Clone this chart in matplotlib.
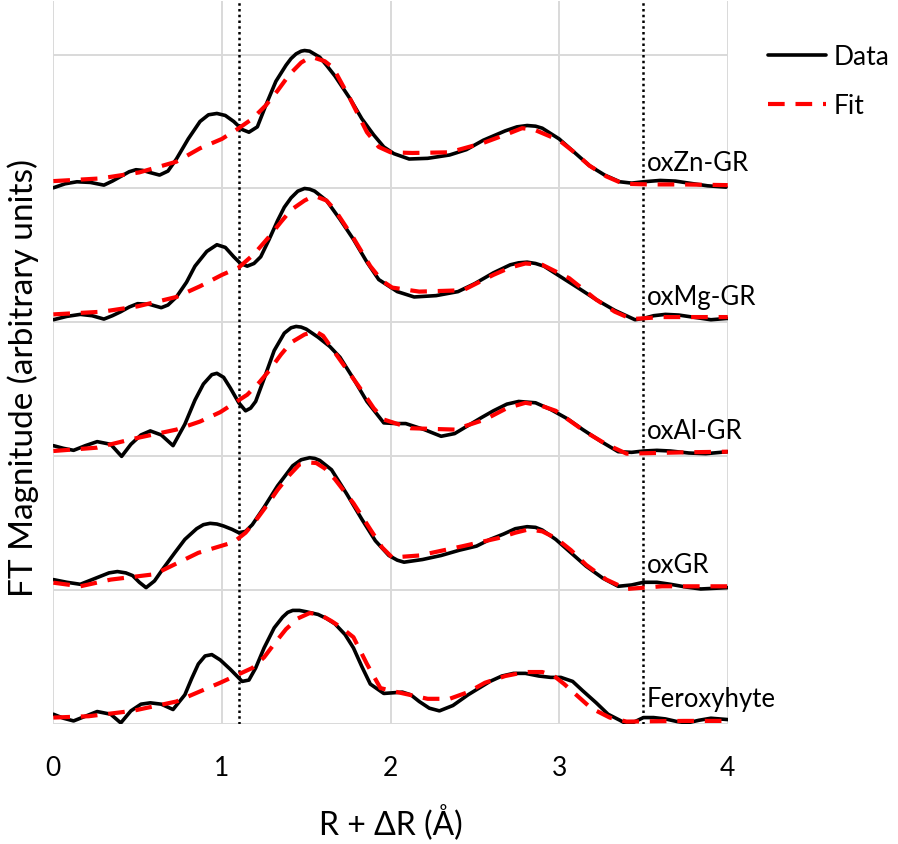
import numpy as np
import matplotlib
matplotlib.use("Agg")
import matplotlib.pyplot as plt

plt.rcParams['font.family'] = ['Lato', 'DejaVu Sans']

# sample names, top to bottom
samples = ['oxZn-GR', 'oxMg-GR', 'oxAl-GR', 'oxGR', 'Feroxyhyte']
offsets = [4, 3, 2, 1, 0]

data_r = {
    'oxZn-GR': [0, 0.07, 0.14, 0.22, 0.30, 0.35, 0.40, 0.45, 0.49, 0.53, 0.57, 0.63, 0.68, 0.73, 0.80, 0.87, 0.92, 0.97, 1.02, 1.07, 1.12, 1.16, 1.21, 1.26, 1.32, 1.38, 1.41, 1.44, 1.47, 1.49, 1.52, 1.54, 1.58, 1.62, 1.67, 1.76, 1.83, 1.90, 1.96, 2.02, 2.11, 2.22, 2.35, 2.45, 2.55, 2.68, 2.75, 2.81, 2.86, 2.90, 3.00, 3.09, 3.18, 3.27, 3.36, 3.43, 3.50, 3.60, 3.69, 3.77, 3.88, 3.99],
    'oxMg-GR': [0, 0.08, 0.16, 0.23, 0.30, 0.35, 0.40, 0.45, 0.50, 0.57, 0.64, 0.68, 0.73, 0.79, 0.84, 0.91, 0.97, 1.02, 1.07, 1.11, 1.15, 1.19, 1.23, 1.28, 1.33, 1.37, 1.41, 1.45, 1.49, 1.52, 1.55, 1.62, 1.70, 1.78, 1.86, 1.93, 2.04, 2.14, 2.27, 2.40, 2.50, 2.61, 2.71, 2.76, 2.81, 2.86, 2.91, 3.01, 3.11, 3.22, 3.33, 3.45, 3.50, 3.56, 3.63, 3.71, 3.79, 3.90, 4.0],
    'oxAl-GR': [0, 0.06, 0.12, 0.19, 0.26, 0.34, 0.405, 0.46, 0.52, 0.575, 0.64, 0.71, 0.78, 0.84, 0.89, 0.94, 0.97, 1.01, 1.05, 1.10, 1.14, 1.17, 1.20, 1.25, 1.31, 1.37, 1.41, 1.44, 1.47, 1.50, 1.57, 1.64, 1.70, 1.78, 1.86, 1.96, 2.03, 2.09, 2.20, 2.30, 2.38, 2.46, 2.54, 2.61, 2.69, 2.76, 2.86, 2.95, 3.05, 3.14, 3.25, 3.35, 3.43, 3.50, 3.58, 3.66, 3.77, 3.87, 4.0],
    'oxGR': [0, 0.08, 0.16, 0.27, 0.33, 0.38, 0.43, 0.47, 0.51, 0.55, 0.60, 0.65, 0.72, 0.78, 0.85, 0.89, 0.93, 0.97, 1.01, 1.06, 1.10, 1.14, 1.18, 1.25, 1.33, 1.42, 1.47, 1.52, 1.55, 1.58, 1.65, 1.74, 1.83, 1.91, 1.99, 2.04, 2.08, 2.19, 2.30, 2.41, 2.51, 2.59, 2.67, 2.74, 2.81, 2.86, 2.90, 2.98, 3.07, 3.16, 3.26, 3.35, 3.43, 3.50, 3.58, 3.66, 3.75, 3.84, 3.92, 4.0],
    'Feroxyhyte': [0, 0.06, 0.12, 0.19, 0.26, 0.34, 0.40, 0.46, 0.52, 0.575, 0.64, 0.71, 0.78, 0.82, 0.86, 0.90, 0.94, 0.99, 1.05, 1.12, 1.16, 1.20, 1.25, 1.31, 1.36, 1.39, 1.42, 1.46, 1.50, 1.57, 1.62, 1.67, 1.73, 1.78, 1.83, 1.88, 1.96, 2.07, 2.12, 2.17, 2.23, 2.29, 2.37, 2.46, 2.59, 2.66, 2.73, 2.80, 2.88, 2.95, 3.01, 3.08, 3.14, 3.22, 3.29, 3.36, 3.41, 3.45, 3.50, 3.56, 3.63, 3.70, 3.76, 3.83, 3.90, 4.0],
}
data_mag = {
    'oxZn-GR': [0.005, 0.035, 0.05, 0.045, 0.025, 0.055, 0.09, 0.125, 0.14, 0.135, 0.12, 0.10, 0.13, 0.22, 0.37, 0.50, 0.55, 0.56, 0.545, 0.50, 0.44, 0.42, 0.46, 0.62, 0.80, 0.92, 0.97, 1.005, 1.025, 1.03, 1.025, 1.01, 0.98, 0.92, 0.84, 0.67, 0.52, 0.40, 0.31, 0.26, 0.22, 0.225, 0.25, 0.29, 0.36, 0.43, 0.46, 0.47, 0.465, 0.45, 0.37, 0.27, 0.17, 0.10, 0.05, 0.04, 0.05, 0.06, 0.055, 0.04, 0.02, 0.01],
    'oxMg-GR': [0.02, 0.045, 0.06, 0.05, 0.025, 0.05, 0.08, 0.115, 0.14, 0.135, 0.11, 0.13, 0.19, 0.30, 0.42, 0.53, 0.58, 0.56, 0.49, 0.44, 0.42, 0.44, 0.49, 0.62, 0.76, 0.86, 0.93, 0.98, 1.00, 0.995, 0.98, 0.91, 0.77, 0.62, 0.45, 0.32, 0.23, 0.19, 0.20, 0.23, 0.29, 0.37, 0.43, 0.445, 0.45, 0.44, 0.42, 0.34, 0.26, 0.17, 0.09, 0.02, 0.03, 0.05, 0.06, 0.055, 0.04, 0.02, 0.03],
    'oxAl-GR': [0.08, 0.06, 0.045, 0.08, 0.11, 0.09, 0.0, 0.09, 0.16, 0.19, 0.16, 0.08, 0.24, 0.42, 0.54, 0.61, 0.62, 0.59, 0.51, 0.40, 0.34, 0.36, 0.41, 0.58, 0.79, 0.92, 0.96, 0.97, 0.965, 0.95, 0.89, 0.82, 0.74, 0.58, 0.41, 0.25, 0.245, 0.245, 0.20, 0.15, 0.17, 0.23, 0.29, 0.34, 0.39, 0.41, 0.40, 0.35, 0.28, 0.20, 0.11, 0.035, 0.03, 0.04, 0.045, 0.04, 0.025, 0.02, 0.035],
    'oxGR': [0.08, 0.06, 0.045, 0.10, 0.13, 0.14, 0.13, 0.11, 0.06, 0.02, 0.07, 0.16, 0.28, 0.38, 0.46, 0.49, 0.50, 0.495, 0.48, 0.455, 0.43, 0.44, 0.49, 0.62, 0.78, 0.93, 0.975, 0.99, 0.985, 0.97, 0.90, 0.72, 0.53, 0.37, 0.26, 0.225, 0.21, 0.23, 0.26, 0.30, 0.33, 0.38, 0.42, 0.46, 0.475, 0.47, 0.45, 0.38, 0.28, 0.18, 0.09, 0.03, 0.04, 0.06, 0.06, 0.045, 0.025, 0.01, 0.015, 0.02],
    'Feroxyhyte': [0.075, 0.045, 0.025, 0.06, 0.095, 0.075, 0.01, 0.10, 0.15, 0.16, 0.15, 0.11, 0.22, 0.34, 0.45, 0.51, 0.52, 0.48, 0.41, 0.32, 0.33, 0.42, 0.57, 0.72, 0.80, 0.835, 0.85, 0.85, 0.84, 0.82, 0.79, 0.75, 0.67, 0.57, 0.43, 0.30, 0.23, 0.24, 0.22, 0.17, 0.12, 0.10, 0.14, 0.22, 0.32, 0.36, 0.38, 0.38, 0.36, 0.35, 0.35, 0.32, 0.25, 0.16, 0.075, 0.03, -0.005, 0.02, 0.05, 0.05, 0.04, 0.02, 0.01, 0.03, 0.045, 0.035],
}

# fitted FT magnitude
fit_r = {
    'oxZn-GR': [0, 0.28, 0.51, 0.73, 0.87, 1.0, 1.10, 1.18, 1.26, 1.33, 1.40, 1.47, 1.51, 1.55, 1.61, 1.66, 1.76, 1.86, 1.93, 2.0, 2.13, 2.35, 2.55, 2.70, 2.78, 2.85, 3.0, 3.09, 3.18, 3.28, 3.38, 3.54, 3.73, 4.0],
    'oxMg-GR': [0, 0.29, 0.50, 0.73, 0.87, 1.0, 1.10, 1.19, 1.28, 1.35, 1.41, 1.49, 1.53, 1.56, 1.62, 1.67, 1.78, 1.88, 1.95, 2.01, 2.17, 2.43, 2.61, 2.71, 2.80, 2.90, 3.06, 3.22, 3.33, 3.43, 3.61, 4.0],
    'oxAl-GR': [0, 0.26, 0.47, 0.73, 0.87, 0.99, 1.15, 1.22, 1.28, 1.35, 1.41, 1.49, 1.53, 1.56, 1.60, 1.65, 1.74, 1.83, 1.90, 1.96, 2.12, 2.38, 2.56, 2.69, 2.80, 2.89, 2.98, 3.07, 3.16, 3.28, 3.40, 3.74, 4.0],
    'oxGR': [0, 0.16, 0.34, 0.60, 0.86, 1.07, 1.14, 1.20, 1.27, 1.33, 1.40, 1.46, 1.51, 1.56, 1.61, 1.67, 1.78, 1.88, 1.95, 2.01, 2.17, 2.43, 2.64, 2.74, 2.82, 2.90, 2.98, 3.07, 3.16, 3.28, 3.40, 3.61, 4.0],
    'Feroxyhyte': [0, 0.21, 0.47, 0.73, 0.99, 1.18, 1.25, 1.31, 1.38, 1.45, 1.52, 1.58, 1.65, 1.71, 1.78, 1.86, 1.94, 2.04, 2.22, 2.35, 2.46, 2.56, 2.68, 2.80, 2.90, 2.97, 3.03, 3.11, 3.19, 3.30, 3.40, 3.74, 4.0],
}
fit_mag = {
    'oxZn-GR': [0.055, 0.075, 0.12, 0.20, 0.30, 0.37, 0.45, 0.52, 0.62, 0.73, 0.85, 0.94, 0.97, 0.975, 0.95, 0.90, 0.67, 0.42, 0.31, 0.27, 0.265, 0.27, 0.34, 0.41, 0.45, 0.44, 0.36, 0.27, 0.17, 0.09, 0.035, 0.03, 0.03, 0.025],
    'oxMg-GR': [0.06, 0.08, 0.12, 0.19, 0.27, 0.355, 0.41, 0.51, 0.64, 0.75, 0.84, 0.91, 0.935, 0.94, 0.91, 0.84, 0.63, 0.42, 0.31, 0.26, 0.23, 0.24, 0.355, 0.41, 0.44, 0.43, 0.33, 0.17, 0.08, 0.025, 0.04, 0.04],
    'oxAl-GR': [0.04, 0.065, 0.13, 0.20, 0.26, 0.33, 0.46, 0.55, 0.64, 0.76, 0.85, 0.91, 0.925, 0.93, 0.90, 0.81, 0.65, 0.49, 0.36, 0.275, 0.21, 0.20, 0.275, 0.36, 0.40, 0.38, 0.34, 0.26, 0.18, 0.09, 0.02, 0.03, 0.035],
    'oxGR': [0.057, 0.03, 0.08, 0.12, 0.28, 0.36, 0.43, 0.52, 0.64, 0.75, 0.86, 0.94, 0.955, 0.95, 0.91, 0.83, 0.65, 0.455, 0.32, 0.245, 0.26, 0.33, 0.39, 0.43, 0.455, 0.44, 0.39, 0.30, 0.19, 0.08, 0.01, 0.03, 0.03],
    'Feroxyhyte': [0.05, 0.06, 0.10, 0.17, 0.31, 0.42, 0.50, 0.60, 0.71, 0.79, 0.83, 0.82, 0.77, 0.72, 0.65, 0.45, 0.27, 0.24, 0.19, 0.19, 0.24, 0.31, 0.36, 0.39, 0.39, 0.36, 0.30, 0.21, 0.12, 0.05, 0.02, 0.025, 0.025],
}

fit_window = [1.1, 3.5]
x_ticks = [0, 1, 2, 3, 4]

fig = plt.figure(figsize=(8.98, 8.45), dpi=100)
ax = fig.add_axes([0.0594, 0.1417, 0.751, 0.856])

for name, off in zip(samples, offsets):
    ax.plot(data_r[name], np.array(data_mag[name]) + off, color='black', lw=2.6,
            solid_joinstyle='round', solid_capstyle='round',
            label='Data' if off == 4 else None, zorder=3)
    ax.plot(fit_r[name], np.array(fit_mag[name]) + off, color='#ff0000', lw=3.0,
            dashes=(4, 2.6), label='Fit' if off == 4 else None, zorder=4)
    ax.text(3.52, off + 0.14, name, fontsize=18.5, va='baseline', ha='left')

for xv in fit_window:
    ax.axvline(xv, color='black', ls=(0, (1, 1.3)), lw=1.8, zorder=2)

ax.set_xlim(0, 4)
ax.set_ylim(0, 5.4)
ax.set_xticks(x_ticks)
ax.set_yticks([0, 1, 2, 3, 4, 5])
ax.set_yticklabels([])
ax.tick_params(length=0, labelsize=19, pad=22)
ax.grid(True, color='#d9d9d9', lw=1.4, zorder=0)
ax.set_axisbelow(True)
for s in ax.spines.values():
    s.set_visible(False)

ax.set_xlabel('R + ΔR (Å)', fontsize=23, labelpad=18)
ax.set_ylabel('FT Magnitude (arbitrary units)', fontsize=24)
ax.yaxis.set_label_coords(-0.022, 0.48)

fig.legend(loc='upper left', bbox_to_anchor=(768 / 898, 1 - 45 / 845), frameon=False,
           fontsize=19, handlelength=2.2, handletextpad=0.3, labelspacing=0.9,
           borderpad=0, borderaxespad=0)

fig.savefig('out.png', dpi=100)
